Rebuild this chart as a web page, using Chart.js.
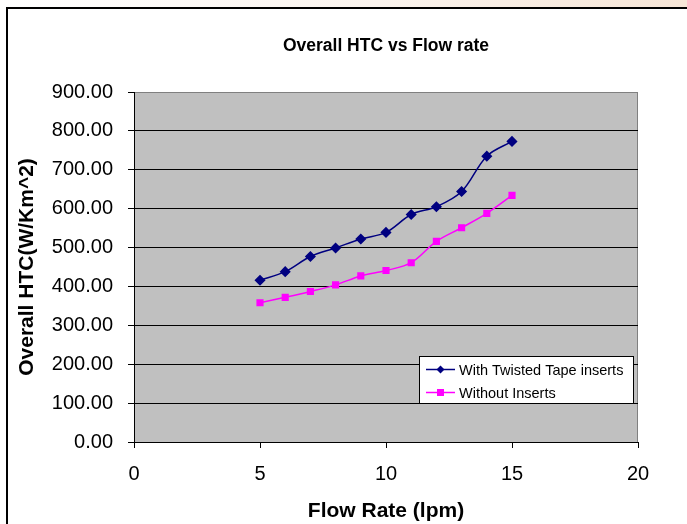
<!DOCTYPE html>
<html>
<head>
<meta charset="utf-8">
<script src="https://cdn.jsdelivr.net/npm/chart.js@4.4.1/dist/chart.umd.min.js"></script>
<style>
  html, body { margin: 0; padding: 0; }
  body {
    width: 687px; height: 524px; overflow: hidden; position: relative;
    background: linear-gradient(to right, #ffffff 0%, #fbf4ee 55%, #f6e5d6 100%);
  }
  #frame {
    position: absolute; left: 6px; top: 7px; width: 700px; height: 540px;
    border: 2px solid #000; background: #fff;
  }
  #wrap { position: absolute; left: 0; top: 0; width: 687px; height: 524px; }
</style>
</head>
<body>
<div id="frame"></div>
<div id="wrap"><canvas id="myChart"></canvas></div>
<script>
// flow rate (lpm) and overall heat transfer coefficient (W/m^2K)
const flowRate = [5, 6, 7, 8, 9, 10, 11, 12, 13, 14, 15];
const twistedTape = [416, 438, 477, 499, 522, 539, 585, 605, 644, 735, 773];
const withoutInserts = [358, 372, 387, 404, 427, 441, 461, 516, 551, 588, 634];

const seriesNames = ['With Twisted Tape inserts', 'Without Inserts'];
const chartTitle = 'Overall HTC vs Flow rate';
const xTitle = 'Flow Rate (lpm)';
const yTitle = 'Overall HTC(W/Km^2)';

const FONT = '"Liberation Sans", Arial, sans-serif';

function points(ys) {
    return flowRate.map((x, i) => ({x: x, y: ys[i]}));
}

// grey plot area with a thin grey border, Excel style
const plotArea = {
    id: 'plotArea',
    beforeDraw(chart) {
        const {ctx, chartArea: a} = chart;
        ctx.save();
        ctx.fillStyle = '#c0c0c0';
        ctx.fillRect(a.left, a.top, a.right - a.left, a.bottom - a.top);
        ctx.strokeStyle = '#808080';
        ctx.lineWidth = 1;
        ctx.strokeRect(a.left + 0.5, a.top + 0.5, a.right - a.left - 1, a.bottom - a.top);
        ctx.restore();
    }
};

// title centred over the plot, legend box inside the plot
const overlay = {
    id: 'overlay',
    afterDraw(chart) {
        const {ctx, chartArea: a} = chart;
        ctx.save();
        ctx.fillStyle = '#000';
        ctx.font = 'bold 17.5px ' + FONT;
        ctx.textAlign = 'center';
        ctx.textBaseline = 'middle';
        ctx.fillText(chartTitle, (a.left + a.right) / 2, 46);

        const bx = a.right - 219, by = a.top + 264, bw = 214, bh = 47;
        ctx.fillStyle = '#fff';
        ctx.fillRect(bx, by, bw, bh);
        ctx.strokeStyle = '#000';
        ctx.lineWidth = 1;
        ctx.strokeRect(bx + 0.5, by + 0.5, bw, bh);

        chart.data.datasets.forEach((ds, i) => {
            const y = by + 13.5 + i * 23;
            ctx.strokeStyle = ds.borderColor;
            ctx.lineWidth = 1.5;
            ctx.beginPath();
            ctx.moveTo(bx + 7, y);
            ctx.lineTo(bx + 36, y);
            ctx.stroke();
            ctx.fillStyle = ds.pointBackgroundColor;
            const mx = bx + 21.5;
            if (ds.pointStyle === 'rectRot') {
                ctx.beginPath();
                ctx.moveTo(mx, y - 4);
                ctx.lineTo(mx + 4, y);
                ctx.lineTo(mx, y + 4);
                ctx.lineTo(mx - 4, y);
                ctx.closePath();
                ctx.fill();
            } else {
                ctx.fillRect(mx - 3.5, y - 3.5, 7, 7);
            }
            ctx.fillStyle = '#000';
            ctx.font = '14.5px ' + FONT;
            ctx.textAlign = 'left';
            ctx.fillText(ds.label, bx + 40, y + 1);
        });
        ctx.restore();
    }
};

const ctx = document.getElementById('myChart').getContext('2d');
const myChart = new Chart(ctx, {
    type: 'line',
    data: {
        datasets: [{
            label: seriesNames[0],
            data: points(twistedTape),
            borderColor: '#000080',
            backgroundColor: '#000080',
            pointBackgroundColor: '#000080',
            pointBorderColor: '#000080',
            pointStyle: 'rectRot',
            pointRadius: 4.5,
            borderWidth: 1.5,
            tension: 0.35,
        }, {
            label: seriesNames[1],
            data: points(withoutInserts),
            borderColor: '#ff00ff',
            backgroundColor: '#ff00ff',
            pointBackgroundColor: '#ff00ff',
            pointBorderColor: '#ff00ff',
            pointStyle: 'rect',
            pointRadius: 4,
            borderWidth: 1.5,
            tension: 0.35,
        }]
    },
    options: {
        responsive: true,
        maintainAspectRatio: false,
        animation: false,
        layout: {
            padding: {left: 10, top: 92, right: 49, bottom: 0}
        },
        scales: {
            x: {
                type: 'linear',
                min: 0,
                max: 20,
                ticks: {
                    stepSize: 5,
                    color: '#000',
                    padding: 14,
                    font: {family: FONT, size: 20},
                },
                grid: {
                    drawOnChartArea: false,
                    color: '#000',
                    tickLength: 6,
                },
                border: {color: '#000', width: 1},
                title: {
                    display: true,
                    text: xTitle,
                    color: '#000',
                    font: {family: FONT, size: 21, weight: 'bold'},
                    padding: {top: 0, bottom: 0},
                },
                afterFit(scale) { scale.height = 82; },
            },
            y: {
                min: 0,
                max: 900,
                ticks: {
                    stepSize: 100,
                    color: '#000',
                    padding: 15,
                    font: {family: FONT, size: 20},
                    callback: (v) => v.toFixed(2),
                },
                grid: {
                    color: (c) => c.tick && c.tick.value === 900 ? '#808080' : '#000',
                    tickColor: '#000',
                    tickLength: 6,
                },
                border: {color: '#000', width: 1},
                title: {
                    display: true,
                    text: yTitle,
                    color: '#000',
                    font: {family: FONT, size: 21, weight: 'bold'},
                    padding: {top: 5, bottom: 0},
                },
                afterFit(scale) { scale.width = 124; },
            },
        },
        plugins: {
            legend: {display: false},
            tooltip: {enabled: false},
        }
    },
    plugins: [plotArea, overlay]
});
</script>
</body>
</html>
